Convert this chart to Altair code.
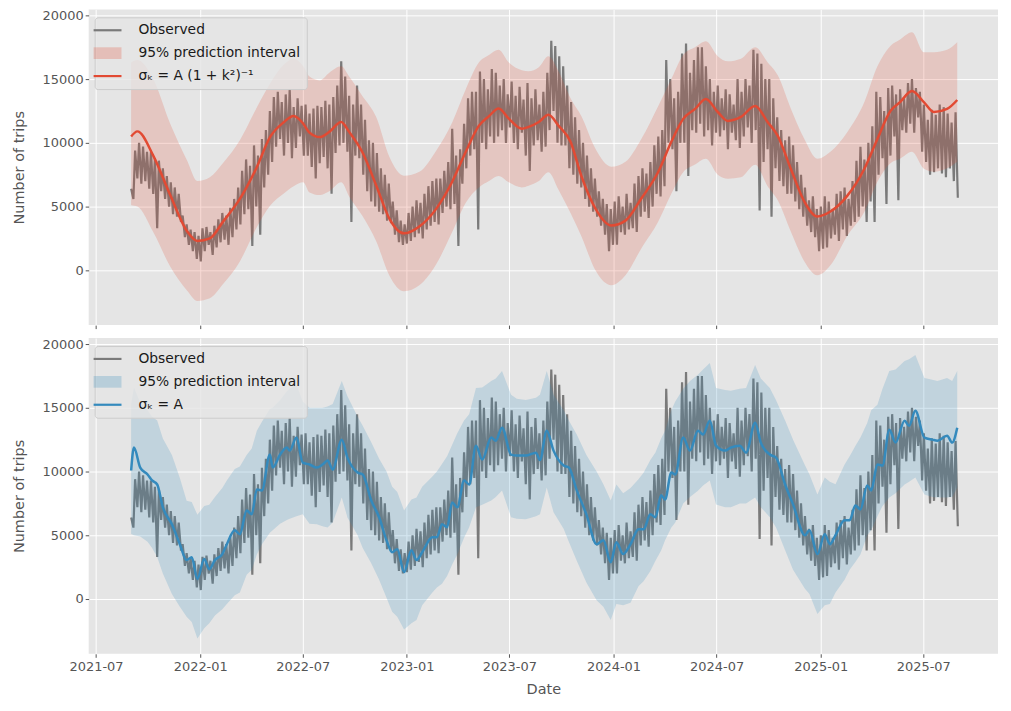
import altair as alt
import pandas as pd

# ---------------- observed (weekly weekday peak / weekend trough) ----------------
obs_high = [
    6400, 9400, 10000, 9700, 9300,          # 2021-09
    9300, 8800, 8600, 8000,                 # 2021-10
    7400, 6900, 6500, 6000,                 # 2021-11
    4300, 3600, 3200, 3000, 2700,           # 2021-12
    3300, 3400, 3000, 3500,                 # 2022-01
    4000, 4500, 4300, 4900,                 # 2022-02
    5600, 6500, 7800, 8700, 8200,           # 2022-03
    9800, 9000, 10300, 11000,               # 2022-04
    12500, 13600, 14000, 13200,             # 2022-05
    13800, 14200, 12800, 13500, 12900,      # 2022-06
    13000, 12300, 12700, 12900,             # 2022-07
    12800, 13300, 13000, 13600, 14500,      # 2022-08
    16400, 15200, 13700, 13000,             # 2022-09
    14500, 13000, 11800, 10200,             # 2022-10
    10000, 9200, 8000, 7500, 6800,          # 2022-11
    5400, 4700, 3900, 3600,                 # 2022-12
    4500, 5000, 5500, 5300,                 # 2023-01
    6000, 6600, 7000, 7200,                 # 2023-02
    7200, 7800, 8500, 11100, 9000,          # 2023-03
    9500, 11500, 13500, 14000,              # 2023-04
    14000, 15600, 15000, 14200, 15800,      # 2023-05
    15500, 14500, 15000, 13800,             # 2023-06
    14800, 13700, 14400, 13400,             # 2023-07
    14700, 13500, 14200, 13000, 14000,      # 2023-08
    15500, 18000, 17600, 16800,             # 2023-09
    16000, 14500, 13200, 12000,             # 2023-10
    11000, 10000, 9000, 8000, 7200,         # 2023-11
    6200, 5600, 5200, 4800,                 # 2023-12
    5400, 5800, 5000, 6000, 5300,           # 2024-01
    6800, 7400, 8000, 7600,                 # 2024-02
    8500, 9800, 10500, 11000,               # 2024-03
    16500, 15000, 13500, 14000,             # 2024-04
    17000, 17800, 15500, 16500, 17500,      # 2024-05
    17500, 16000, 15000, 14000,             # 2024-06
    14500, 13500, 14200, 13800, 13000,      # 2024-07
    15000, 14000, 15000, 14500,             # 2024-08
    17300, 17000, 16200, 15000,             # 2024-09
    15000, 13500, 12000, 11000, 10200,      # 2024-10
    10500, 9800, 8500, 7500,                # 2024-11
    6500, 5500, 5800, 4800,                 # 2024-12
    5000, 5800, 5400, 4800, 6000,           # 2025-01
    6200, 6500, 5600, 7000,                 # 2025-02
    8600, 9700, 8700, 10000,                # 2025-03
    11300, 14000, 13600, 12500, 14300,      # 2025-04
    14500, 13800, 14200, 13500,             # 2025-05
    14700, 15000, 14300, 14000,             # 2025-06
    13000, 11800, 12600, 12200, 13000,      # 2025-07
    12800, 12300, 11600, 12400,             # 2025-08
]
obs_low = [
    5600, 7200, 6800, 7000, 6400,
    6000, 3300, 6200, 5600,
    5000, 4400, 4200, 3800,
    2600, 2000, 1500, 900, 700,
    1500, 2000, 1200, 1800,
    2200, 2400, 2000, 2600,
    3200, 3600, 4400, 4800, 1900,
    5000, 2800, 6500, 7500,
    8500, 9700, 10300, 9000,
    10000, 8800, 9600, 10500, 9000,
    9000, 8100, 7200, 8400,
    8900, 8000, 6000, 9200, 9800,
    10000, 9300, 3800, 9000,
    8800, 7500, 6200, 5400,
    5000, 4600, 4400, 3900, 3700,
    2800, 2200, 2000, 2100,
    2300, 2600, 2900, 2500,
    3200, 3500, 3800, 3600,
    4500, 5000, 4800, 5200, 1900,
    6800, 8000, 9000, 9500,
    3200, 10000, 9500, 10500, 10000,
    10500, 11000, 10000, 11200,
    10000, 9500, 10800, 9000,
    7800, 9800, 10200, 9300, 9700,
    11000, 12500, 10000, 9800,
    9800, 8000, 7500, 6800,
    6500, 5600, 5000, 4600, 4200,
    3500, 2800, 1500, 2000,
    2000, 3000, 2800, 3200, 3300,
    3000, 4200, 4600, 4100,
    5000, 6000, 5800, 6600,
    10000, 9500, 6200, 10000,
    10000, 7400, 11000, 10800, 11500,
    10500, 11000, 9800, 10800,
    10500, 11000, 9500, 10800, 10200,
    9600, 10500, 11200, 10000,
    11000, 4700, 8500, 9500,
    4200, 8000, 7000, 6600, 6000,
    6000, 5400, 4800, 4200,
    3500, 3000, 2600, 1500,
    1700, 1800, 2500, 2800, 2300,
    3200, 2700, 3500, 3800,
    4200, 5000, 3800, 5400,
    3800, 7500, 8800, 5200, 9000,
    10500, 5500, 11000, 10800,
    11500, 10800, 12000, 9300,
    8500, 7500, 7700, 8000, 7600,
    7300, 8000, 7000, 5700,
]

# ---------------- model 1: sigma_k = A (1 + k^2)^-1 ----------------
red_dates = ["2021-09-01", "2021-09-12", "2021-10-10", "2021-11-09", "2021-12-09", "2021-12-27",
             "2022-01-18", "2022-02-10", "2022-03-12", "2022-04-10", "2022-05-05", "2022-05-28",
             "2022-06-15", "2022-07-02", "2022-07-13", "2022-07-31", "2022-08-17", "2022-09-07",
             "2022-09-21", "2022-10-14", "2022-11-08", "2022-12-01", "2022-12-27", "2023-01-23",
             "2023-02-22", "2023-03-22", "2023-04-15", "2023-05-08", "2023-05-26", "2023-06-12",
             "2023-06-30", "2023-07-23", "2023-08-04", "2023-08-22", "2023-09-08", "2023-09-26",
             "2023-10-17", "2023-11-05", "2023-11-30", "2023-12-28", "2024-01-22", "2024-02-19",
             "2024-03-20", "2024-04-12", "2024-05-03", "2024-05-24", "2024-06-12", "2024-07-03",
             "2024-07-21", "2024-08-13", "2024-09-07", "2024-09-29", "2024-10-17", "2024-11-09",
             "2024-12-03", "2024-12-26", "2025-01-18", "2025-02-17", "2025-03-19", "2025-04-11",
             "2025-05-04", "2025-05-21", "2025-06-11", "2025-07-02", "2025-07-20", "2025-08-12",
             "2025-08-30"]
red_fit = [10500, 10900, 9000, 5900, 3050, 2300, 2500, 3800, 5600, 8000,
           10500, 11600, 12100, 11500, 10800, 10450, 10860, 11640, 10860, 9300,
           6640, 4060, 2900, 3440, 4840, 6950, 9300, 11330, 12100, 12700,
           11900, 11100, 11250, 11640, 12200, 11330, 10080, 7420, 4840, 3520,
           3900, 5630, 7730, 10080, 11880, 12660, 13440, 12420, 11720, 12030,
           12900, 11640, 10550, 7970, 5390, 4220, 4610, 5860, 7970, 10310,
           12500, 13200, 14060, 13200, 12420, 12660, 13360]
red_lo = [5100, 5000, 3000, 300, -1600, -2400, -2200, -1100, 700, 3300,
          5100, 6000, 6600, 6900, 6100, 5900, 6200, 6900, 5800, 4300,
          2270, -400, -1640, -1170, 500, 3000, 5300, 6500, 7000, 7400,
          6900, 6500, 6640, 7000, 7700, 6300, 4500, 2700, 0, -1170,
          -390, 1720, 3830, 6000, 7700, 8300, 8750, 7500, 7190, 7300,
          8280, 6600, 5500, 3050, 700, -390, 390, 2730, 4600, 6950,
          8400, 8750, 9300, 7970, 7730, 8000, 8520]
red_up = [16300, 16500, 15000, 11500, 8600, 7000, 7300, 8400, 10200, 12700,
          14700, 16100, 16600, 16000, 15200, 14900, 15500, 16000, 15200, 13700,
          12000, 8900, 7420, 7730, 9400, 11600, 14200, 16300, 16900, 17300,
          16300, 15700, 15620, 15940, 16800, 15600, 13500, 12100, 9530, 8130,
          8520, 10310, 12900, 15000, 16900, 17500, 17970, 16800, 16400, 16600,
          17500, 16330, 15300, 12700, 10300, 8750, 9300, 10860, 13200, 16000,
          17600, 18100, 18670, 17110, 17110, 17300, 17890]

# ---------------- model 2: sigma_k = A ----------------
blue_dates = [
    "2021-09-01", "2021-09-06", "2021-09-17", "2021-09-30", "2021-10-08", "2021-10-17", "2021-10-27", "2021-11-12", "2021-11-26", "2021-12-08",
    "2021-12-17", "2021-12-27", "2022-01-08", "2022-01-17", "2022-01-27", "2022-02-09", "2022-02-17", "2022-03-03", "2022-03-12", "2022-03-24",
    "2022-04-02", "2022-04-11", "2022-04-20", "2022-05-04", "2022-05-09", "2022-05-22", "2022-06-03", "2022-06-08", "2022-06-20", "2022-07-01",
    "2022-07-13", "2022-07-26", "2022-08-05", "2022-08-14", "2022-08-23", "2022-09-08", "2022-09-18", "2022-10-06", "2022-10-15", "2022-10-30",
    "2022-11-13", "2022-11-26", "2022-12-06", "2022-12-15", "2022-12-27", "2023-01-09", "2023-01-18", "2023-01-28", "2023-02-15", "2023-02-23",
    "2023-03-04", "2023-03-13", "2023-03-22", "2023-03-31", "2023-04-12", "2023-04-21", "2023-05-03", "2023-05-14", "2023-05-30", "2023-06-07",
    "2023-06-18", "2023-07-04", "2023-07-14", "2023-07-30", "2023-08-17", "2023-08-24", "2023-09-05", "2023-09-17", "2023-10-05", "2023-10-14",
    "2023-10-28", "2023-11-14", "2023-12-02", "2023-12-14", "2023-12-27", "2024-01-06", "2024-01-18", "2024-01-31", "2024-02-14", "2024-02-23",
    "2024-03-06", "2024-03-15", "2024-03-25", "2024-04-01", "2024-04-12", "2024-04-19", "2024-05-03", "2024-05-15", "2024-05-29", "2024-06-07",
    "2024-06-19", "2024-06-30", "2024-07-16", "2024-07-26", "2024-08-11", "2024-08-22", "2024-09-07", "2024-09-17", "2024-10-03", "2024-10-14",
    "2024-10-30", "2024-11-13", "2024-12-04", "2024-12-12", "2024-12-26", "2025-01-08", "2025-01-17", "2025-01-27", "2025-02-12", "2025-02-21",
    "2025-03-03", "2025-03-12", "2025-03-24", "2025-03-31", "2025-04-11", "2025-04-20", "2025-05-02", "2025-05-13", "2025-05-29", "2025-06-06",
    "2025-06-17", "2025-07-03", "2025-07-17", "2025-07-26", "2025-08-12", "2025-08-21", "2025-08-30"]
blue_fit = [
    10080, 11880, 10310, 9770, 9300, 8980, 7190, 5860, 4300, 3050,
    3280, 1560, 3130, 2340, 3050, 3520, 4300, 5390, 5080, 6950,
    6640, 8590, 8520, 11330, 10310, 11330, 11880, 11640, 12660, 10700,
    10550, 10310, 10550, 10860, 10160, 12500, 11090, 9920, 9770, 7730,
    6410, 4610, 3670, 3910, 2110, 3830, 3050, 3670, 4840, 4840,
    5860, 5630, 7580, 7190, 9300, 8980, 12030, 10940, 12660, 12420,
    13440, 11330, 11250, 11250, 11480, 10900, 13200, 11640, 10470, 10310,
    8520, 6640, 4300, 4610, 2890, 4450, 3520, 4300, 5470, 5470,
    6640, 6410, 8130, 7810, 9920, 9770, 12660, 11640, 13200, 12900,
    13980, 12030, 11640, 11880, 12030, 11480, 13830, 12270, 11330, 11090,
    8980, 7420, 5000, 5390, 3520, 5080, 4300, 5000, 6170, 6170,
    7340, 7030, 8900, 8520, 10550, 10470, 13280, 12270, 13980, 13590,
    14770, 12660, 12500, 12420, 12810, 12270, 13440]
blue_lo = [
    5100, 5000, 4900, 4500, 4000, 3300, 2000, 400, -600, -1400,
    -1800, -3100, -2300, -1900, -1300, -800, -400, 300, 500, 1900,
    2300, 3500, 4300, 5200, 5400, 5900, 6200, 6300, 6500, 6640,
    5900, 5860, 5700, 5600, 6000, 7970, 6400, 5000, 4000, 2800,
    1500, 100, -1000, -1400, -2400, -1900, -1640, -500, 500, 900,
    1200, 1800, 2700, 3500, 4800, 5630, 7190, 7400, 7730, 8000,
    8520, 6410, 6300, 6250, 6500, 6640, 8750, 6800, 5500, 4500,
    3000, 1300, -100, -600, -1640, -400, -500, -300, 1000, 1400,
    2200, 3000, 3800, 4600, 5600, 6000, 7500, 8000, 8500, 8900,
    9300, 7420, 7190, 7190, 7500, 7500, 7970, 7200, 6410, 5600,
    3830, 2300, 800, 390, -1170, -500, -390, 500, 1500, 2300,
    2900, 3500, 5000, 5390, 6500, 7300, 7970, 8300, 8980, 9200,
    9530, 8200, 8000, 7970, 7970, 8000, 8750]
blue_up = [
    15300, 16600, 15400, 14800, 14300, 14000, 12600, 11300, 9500, 7700,
    7600, 6600, 7300, 7400, 8000, 8700, 9300, 10200, 10400, 11300,
    11800, 13200, 13900, 14900, 15000, 15600, 16300, 16500, 16800, 15500,
    15000, 15000, 15000, 15100, 15300, 17110, 15900, 14300, 13600, 12300,
    11000, 10000, 8800, 8400, 6950, 7800, 7970, 8800, 9600, 10000,
    10600, 11200, 12100, 13000, 14000, 14500, 16560, 16600, 17110, 17300,
    17890, 16020, 15700, 15620, 15780, 16020, 17890, 16020, 14800, 14000,
    12900, 11300, 10000, 9000, 7730, 8980, 8300, 8700, 9400, 9900,
    10900, 11500, 12600, 13200, 14800, 15500, 16500, 17100, 17600, 18000,
    18520, 16560, 16400, 16330, 16500, 16560, 18360, 17300, 16560, 15600,
    14000, 12500, 10500, 9770, 8200, 9530, 9200, 9000, 10550, 11200,
    12000, 12660, 13800, 14800, 15230, 16500, 17890, 18000, 18670, 18800,
    19140, 17340, 17200, 17110, 17340, 17100, 17890]

OBS = "Observed"
BAND = "95% prediction interval"
RED_LABEL = "σₖ = A (1 + k²)⁻¹"
BLUE_LABEL = "σₖ = A"
RED = "#E24A33"
BLUE = "#348ABD"
GREY = "#7a7a7a"

# ---------------- data frames ----------------
wed = pd.date_range("2021-09-01", periods=len(obs_high), freq="7D")
sun = wed + pd.Timedelta(days=4)
rows = []
for d1, h, d2, l in zip(wed, obs_high, sun, obs_low):
    rows.append({"date": d1.strftime("%Y-%m-%d"), "v": h, "s": OBS})
    rows.append({"date": d2.strftime("%Y-%m-%d"), "v": l, "s": OBS})
obs_df = pd.DataFrame(rows)

red_df = pd.DataFrame({"date": red_dates, "fit": red_fit, "lo": red_lo, "up": red_up, "s": RED_LABEL})
blue_df = pd.DataFrame({"date": blue_dates, "fit": blue_fit, "lo": blue_lo, "up": blue_up, "s": BLUE_LABEL})

# ---------------- scales / axes ----------------
x_scale = alt.Scale(type="utc",
                    domain=[alt.DateTime(year=2021, month=6, date=18, utc=True),
                            alt.DateTime(year=2025, month=11, date=10, utc=True)])
y_scale = alt.Scale(domain=[-4300, 20470], nice=False, zero=False)
tick_dates = [alt.DateTime(year=y, month=m, date=1, utc=True)
              for y in range(2021, 2026) for m in (1, 7)
              if not (y == 2021 and m == 1)]


def x_axis(bottom):
    if bottom:
        return alt.Axis(values=tick_dates, labelExpr="utcFormat(datum.value, '%Y-%m')",
                        title="Date", titlePadding=9, labelPadding=3)
    return alt.Axis(values=tick_dates, labels=False, title=None)


y_axis = alt.Axis(values=[0, 5000, 10000, 15000, 20000], title="Number of trips",
                  titlePadding=16, format="d")


def make_legend(color):
    sq = "M-1,-0.42L1,-0.42L1,0.42L-1,0.42Z"
    is_band = f"datum.value === '{BAND}'"
    return alt.Legend(
        title=None, orient="none", legendX=6, legendY=8, direction="vertical",
        symbolSize=784,
        symbolType=alt.ExprRef(expr=f"{is_band} ? '{sq}' : 'stroke'"),
        symbolFillColor=alt.ExprRef(expr=f"{is_band} ? '{color}' : 'transparent'"),
        symbolStrokeColor=alt.ExprRef(
            expr=f"datum.value === '{OBS}' ? '{GREY}' : ({is_band} ? 'transparent' : '{color}')"),
        symbolStrokeWidth=alt.ExprRef(expr=f"{is_band} ? 0 : 2.2"),
        symbolOpacity=alt.ExprRef(expr=f"{is_band} ? 0.25 : 1"),
        labelFont="DejaVu Sans", labelFontSize=13.9, labelColor="#1a1a1a",
        labelOffset=24, labelLimit=400, padding=6, rowPadding=8,
        fillColor="rgba(229,229,229,0.8)", strokeColor="#cccccc", cornerRadius=3,
    )


def panel(fit_df, label, color, bottom, band_interp):
    cscale = alt.Scale(domain=[OBS, BAND, label], range=[GREY, color, color])
    X = alt.X("date:T", scale=x_scale, axis=x_axis(bottom))
    obs = alt.Chart(obs_df).mark_line(strokeWidth=2.2).encode(
        x=X, y=alt.Y("v:Q", scale=y_scale, axis=y_axis),
        color=alt.Color("s:N", scale=cscale, legend=make_legend(color)),
    )
    band = alt.Chart(fit_df).mark_area(color=color, opacity=0.2, interpolate=band_interp).encode(
        x=X, y=alt.Y("lo:Q", scale=y_scale, axis=y_axis), y2="up:Q",
    )
    fit = alt.Chart(fit_df).mark_line(strokeWidth=2.5, interpolate="monotone").encode(
        x=X, y=alt.Y("fit:Q", scale=y_scale, axis=y_axis),
        color=alt.Color("s:N", scale=cscale, legend=make_legend(color)),
    )
    return alt.layer(obs, band, fit).properties(width=913, height=317)


top = panel(red_df, RED_LABEL, RED, bottom=False, band_interp="monotone")
bot = panel(blue_df, BLUE_LABEL, BLUE, bottom=True, band_interp="linear")

chart = alt.vconcat(top, bot, spacing=9).resolve_scale(color="independent").properties(
    padding={"left": 3, "top": 0, "right": 5, "bottom": 5},
    background="white",
).configure_view(fill="#E5E5E5", stroke=None).configure_axis(
    domain=False, grid=True, gridColor="white", gridWidth=1,
    tickColor="#555555", tickSize=3.5, tickWidth=1,
    labelColor="#555555", labelFont="DejaVu Sans", labelFontSize=13,
    titleFont="DejaVu Sans", titleFontSize=14.5, titleFontWeight="normal",
    titleColor="#555555", labelPadding=2, labelFlush=False,
)

chart.save("out.html", embed_options={"renderer": "svg", "actions": False})
